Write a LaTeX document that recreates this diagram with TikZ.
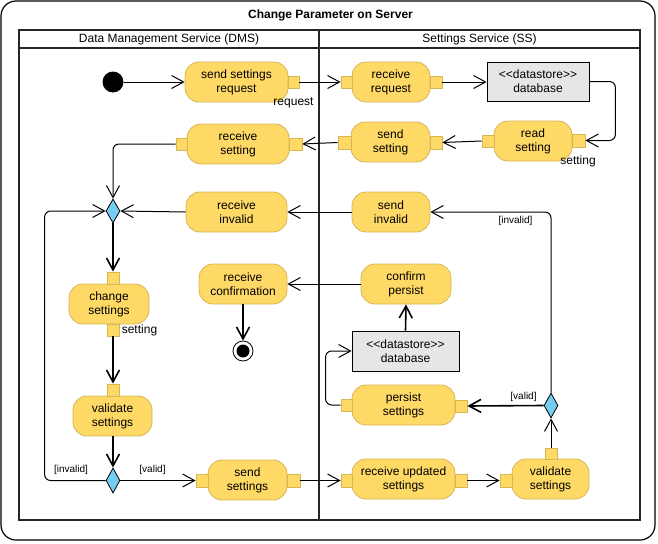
\documentclass[tikz,border=0pt]{standalone}
\usepackage{fontspec}
\setmainfont{Liberation Sans}
\newfontfamily\dsfont{Liberation Sans}
\usetikzlibrary{arrows.meta,shapes.geometric}
\definecolor{actfill}{HTML}{FFD966}
\definecolor{actline}{HTML}{D6B656}
\definecolor{decfill}{HTML}{75CDF2}
\definecolor{dsfill}{HTML}{E6E6E6}
\begin{document}
\begin{tikzpicture}[x=1pt,y=-1pt,
 every node/.style={font=\fontsize{12}{14}\selectfont},
 act/.style={draw=actline, fill=actfill, rounded corners=14pt, minimum height=40pt, inner sep=0pt, align=center, line width=0.8pt},
 pinbox/.style={draw=actline, fill=actfill, inner sep=0pt, minimum width=12pt, minimum height=12pt, line width=0.8pt},
 ds/.style={draw=black, fill=dsfill, minimum height=40pt, inner sep=0pt, align=center, line width=0.8pt, font=\dsfont\fontsize{12}{14}\selectfont},
 dec/.style={draw=black, fill=decfill, diamond, inner sep=0pt, minimum width=14pt, minimum height=25pt, line width=0.8pt},
 arr/.style={draw=black, line width=1pt, -{Straight Barb[length=12pt,width=13pt]}},
 arrb/.style={arr, line width=1.6pt},
 lbl/.style={inner sep=0pt},
 grd/.style={font=\fontsize{10}{12}\selectfont, inner sep=0pt},
]
\useasboundingbox (0,0) rectangle (658,543);
% frame
\draw[line width=1.2pt, rounded corners=15pt] (1,1) rectangle (655,540);
\node[font=\bfseries\fontsize{12}{14}\selectfont] (title) at (330.5,15) {Change Parameter on Server};
% pool
\draw[line width=1.8pt, draw=black!85] (19,30) rectangle (640,520);
\draw[line width=1.8pt, draw=black!85] (19,48) -- (640,48);
\draw[line width=1.8pt, draw=black!85] (319,30) -- (319,520);
\node (hdms) at (169,39) {Data Management Service (DMS)};
\node (hss) at (479.5,39) {Settings Service (SS)};

% nodes row 1
\node[circle, fill=black, minimum size=21pt, inner sep=0pt] (init) at (113,82) {};
\node[act, minimum width=103pt] (ssr) at (236.5,82) {send settings\\request};
\node[pinbox, minimum width=11pt] (ssrR) at (293.5,82) {};
\node[lbl] (lreq) at (293.5,103) {request};
\node[act, minimum width=78pt] (rr) at (391,82) {receive\\request};
\node[pinbox, minimum width=11pt] (rrL) at (346.5,82) {};
\node[pinbox] (rrR) at (436,82) {};
\node[ds, minimum width=102pt, minimum height=39pt] (db1) at (538,81.5) {<<datastore>>\\database};

% row 2
\node[act, minimum width=78pt] (rs) at (533,141) {read\\setting};
\node[pinbox, minimum width=13pt, minimum height=13pt] (rsR) at (578.5,140.5) {};
\node[pinbox] (rsL) at (488,141) {};
\node[lbl] (lset1) at (578,161) {setting};
\node[act, minimum width=79pt] (ss) at (390.5,142) {send\\setting};
\node[pinbox, minimum width=13pt, minimum height=13pt] (ssL) at (344.5,142.5) {};
\node[pinbox, minimum height=13pt] (ssR) at (436,142.5) {};
\node[act, minimum width=102pt] (rset) at (238,144) {receive\\setting};
\node[pinbox, minimum width=11pt] (rsetL) at (181.5,144) {};
\node[pinbox, minimum width=13pt] (rsetR) at (295.5,144) {};

% row 3
\node[dec, minimum height=24pt] (d1) at (113,211) {};
\node[act, minimum width=101pt] (ri) at (236.5,212) {receive\\invalid};
\node[act, minimum width=78pt] (si) at (391,212) {send\\invalid};

% row 4
\node[act, minimum width=80pt] (cs) at (109,304) {change\\settings};
\node[pinbox] (csT) at (113,278) {};
\node[pinbox] (csB) at (113,330) {};
\node[lbl] (lset2) at (139.5,330) {setting};
\node[act, minimum width=88pt] (rc) at (243,284) {receive\\confirmation};
\node[act, minimum width=90pt] (cp) at (406,284) {confirm\\persist};

% row 5
\node[circle, draw=black, fill=white, minimum size=20pt, inner sep=0pt, line width=0.8pt] (fin) at (243,351) {};
\node[circle, fill=black, minimum size=13pt, inner sep=0pt] (finin) at (fin.center) {};
\node[ds, minimum width=107pt] (db2) at (405.5,351) {<<datastore>>\\database};

% row 6
\node[act, minimum width=79pt] (vs1) at (112.5,416) {validate\\settings};
\node[pinbox] (vs1T) at (113,390) {};
\node[act, minimum width=103pt] (ps) at (403.5,405) {persist\\settings};
\node[pinbox, minimum width=11pt] (psL) at (346.5,405) {};
\node[pinbox] (psR) at (461,406) {};
\node[dec] (d2) at (551,405.5) {};

% row 7
\node[dec] (d3) at (113,480.5) {};
\node[act, minimum width=79pt] (sset) at (247.5,480) {send\\settings};
\node[pinbox, minimum height=13pt] (ssetL) at (202,480.5) {};
\node[pinbox, minimum width=13pt, minimum height=13pt] (ssetR) at (293.5,480.5) {};
\node[act, minimum width=103pt] (ru) at (403.5,479) {receive updated\\settings};
\node[pinbox, minimum width=11pt, minimum height=13pt] (ruL) at (346.5,480.5) {};
\node[pinbox, minimum height=13pt] (ruR) at (461,480.5) {};
\node[act, minimum width=77pt] (vs2) at (550.5,479) {validate\\settings};
\node[pinbox, minimum height=13pt] (vs2L) at (506,480.5) {};
\node[pinbox, minimum height=11pt] (vs2T) at (551,453.5) {};

% guard labels
\node[grd] (g1) at (71,470) {[invalid]};
\node[grd] (g2) at (152.5,470) {[valid]};
\node[grd] (g3) at (515.5,221) {[invalid]};
\node[grd] (g4) at (523.5,397) {[valid]};

% connectors
\draw[arr] (init) -- (ssr.west);
\draw[arr] (ssrR.east) -- (rrL.west);
\draw[arr] (rrR.east) -- (db1.west |- rrR.east);
\draw[arr, rounded corners=6pt] (db1.east) -- ++(26,0) |- (rsR.east);
\draw[arr] (rsL.west) -- (ssR.east);
\draw[arr] (ssL.west) -- (rsetR.east);
\draw[arr, rounded corners=6pt] (rsetL.west) -| (d1.north);
\draw[arr] (ri.west) -- (d1.east);
\draw[arr, rounded corners=6pt] (d3.west) -- ++(-61,0) |- (d1.west);
\draw[arrb] (d1.south) -- (csT.north);
\draw[arrb] (csB.south) -- (vs1T.north);
\draw[arrb] (vs1.south -| d3.north) -- (d3.north);
\draw[arr] (d3.east) -- (ssetL.west);
\draw[arr] (ssetR.east) -- (ruL.west);
\draw[arr] (ruR.east) -- (vs2L.west);
\draw[arr] (vs2T.north) -- (d2.south);
\draw[arrb] (d2.west) -- (psR.east);
\draw[arr, rounded corners=6pt] (d2.north) |- (si.east);
\draw[arr] (si.west) -- (ri.east);
\draw[arr, rounded corners=6pt] (psL.west) -- ++(-15,0) |- (db2.west);
\draw[arrb] (db2.north) -- (cp.south);
\draw[arr] (cp.west) -- (rc.east);
\draw[arrb] (rc.south) -- (fin.north);
\end{tikzpicture}
\end{document}
